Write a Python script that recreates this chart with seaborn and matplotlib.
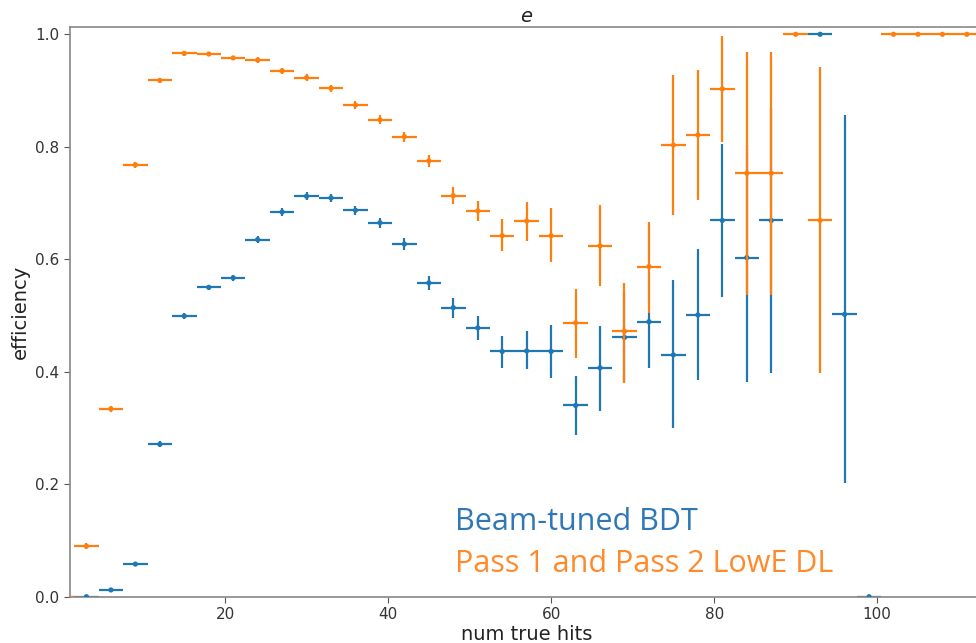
import numpy as np
import pandas as pd
import matplotlib
matplotlib.use("Agg")
import matplotlib.pyplot as plt
import seaborn as sns

# ---- data ----
bdt_x = [0, 3, 6, 9, 12, 15, 18, 21, 24, 27, 30, 33, 36, 39, 42, 45, 48, 51, 54, 57, 60,
         63, 66, 69, 72, 75, 78, 81, 84, 87, 93, 96, 99]
bdt_eff = [0.0, 0.0, 0.012, 0.058, 0.271, 0.499, 0.550, 0.567, 0.635, 0.684, 0.712, 0.709,
           0.687, 0.665, 0.627, 0.558, 0.514, 0.478, 0.436, 0.437, 0.436,
           0.340, 0.407, 0.461, 0.489, 0.430, 0.501, 0.669, 0.603, 0.669, 1.0, 0.502, 0.0]
bdt_lo = [0.0, 0.0, 0.003, 0.004, 0.005, 0.005, 0.005, 0.005, 0.006, 0.007, 0.007, 0.007,
          0.008, 0.009, 0.011, 0.013, 0.018, 0.021, 0.029, 0.033, 0.048,
          0.052, 0.076, 0.080, 0.082, 0.130, 0.116, 0.136, 0.221, 0.271, 0.0, 0.300, 0.0]
bdt_hi = [0.0, 0.002, 0.003, 0.004, 0.005, 0.005, 0.005, 0.005, 0.006, 0.007, 0.007, 0.007,
          0.008, 0.009, 0.011, 0.013, 0.018, 0.021, 0.028, 0.036, 0.047,
          0.053, 0.074, 0.080, 0.015, 0.133, 0.118, 0.136, 0.200, 0.200, 0.0, 0.354, 0.0]

dl_x = [0, 3, 6, 9, 12, 15, 18, 21, 24, 27, 30, 33, 36, 39, 42, 45, 48, 51, 54, 57, 60,
        63, 66, 69, 72, 75, 78, 81, 84, 87, 90, 93, 102, 105, 108, 111]
dl_eff = [0.0, 0.090, 0.334, 0.768, 0.918, 0.966, 0.965, 0.958, 0.954, 0.935, 0.923, 0.904,
          0.874, 0.848, 0.818, 0.775, 0.713, 0.686, 0.642, 0.668, 0.642,
          0.487, 0.624, 0.472, 0.587, 0.803, 0.821, 0.903, 0.753, 0.753, 1.0, 0.669,
          1.0, 1.0, 1.0, 1.0]
dl_lo = [0.0, 0.005, 0.005, 0.005, 0.005, 0.004, 0.004, 0.004, 0.005, 0.005, 0.006, 0.006,
         0.007, 0.008, 0.009, 0.011, 0.015, 0.018, 0.028, 0.035, 0.046,
         0.063, 0.072, 0.092, 0.083, 0.124, 0.115, 0.094, 0.217, 0.217, 0.0, 0.271,
         0.0, 0.0, 0.0, 0.0]
dl_hi = [0.0, 0.005, 0.005, 0.005, 0.005, 0.004, 0.004, 0.004, 0.005, 0.005, 0.006, 0.006,
         0.007, 0.008, 0.009, 0.011, 0.015, 0.018, 0.029, 0.034, 0.049,
         0.061, 0.072, 0.086, 0.080, 0.125, 0.115, 0.094, 0.216, 0.216, 0.0, 0.272,
         0.0, 0.0, 0.0, 0.0]

bin_half = 1.5
series_names = ["Beam-tuned BDT", "Pass 1 and Pass 2 LowE DL"]
x_ticks = [20, 40, 60, 80, 100]
y_ticks = [0.0, 0.2, 0.4, 0.6, 0.8, 1.0]

# ---- plotting ----
sns.set_theme(style="white")
plt.rcParams['font.family'] = ['DejaVu Sans']

fig = plt.figure(figsize=(9.76, 6.43), dpi=100)
ax = fig.add_axes([0.0717, 0.072, 0.9365, 0.8856])

blue = "#1f77b4"
orange = "#ff7f0e"

df_b = pd.DataFrame({"x": bdt_x, "eff": bdt_eff, "series": series_names[0]})
df_d = pd.DataFrame({"x": dl_x, "eff": dl_eff, "series": series_names[1]})

ax.errorbar(bdt_x, bdt_eff, xerr=bin_half, yerr=[bdt_lo, bdt_hi], fmt="none",
            ecolor=blue, elinewidth=1.6, capsize=0, zorder=2)
sns.scatterplot(data=df_b, x="x", y="eff", color=blue, s=14, edgecolor="none",
                ax=ax, zorder=3, legend=False)
ax.errorbar(dl_x, dl_eff, xerr=bin_half, yerr=[dl_lo, dl_hi], fmt="none",
            ecolor=orange, elinewidth=1.6, capsize=0, zorder=4)
sns.scatterplot(data=df_d, x="x", y="eff", color=orange, s=14, edgecolor="none",
                ax=ax, zorder=5, legend=False)

ax.set_xlim(0.98, 113.1)
ax.set_ylim(0.0, 1.0125)
ax.set_xticks(x_ticks)
ax.set_yticks(y_ticks)
ax.set_yticklabels([f"{v:.1f}" for v in y_ticks])
ax.tick_params(axis="both", labelsize=11, colors="#333333", length=4, width=0.8,
               bottom=True, left=True, color="#555555")
for s in ax.spines.values():
    s.set_color("#888888")
    s.set_linewidth(1.2)

ax.set_xlabel("num true hits", fontsize=14, color="#222222", labelpad=2)
ax.set_ylabel("efficiency", fontsize=14, color="#222222", labelpad=4)
ax.set_title("$e$", fontsize=14, color="#222222", pad=4)

ax.text(0.4216, 0.118, series_names[0], transform=ax.transAxes, fontsize=22,
        color="#2e78b7", family=["Open Sans", "DejaVu Sans"])
ax.text(0.4216, 0.043, series_names[1], transform=ax.transAxes, fontsize=22,
        color="#ff8a2c", family=["Open Sans", "DejaVu Sans"])

fig.savefig("out.png", dpi=100)
